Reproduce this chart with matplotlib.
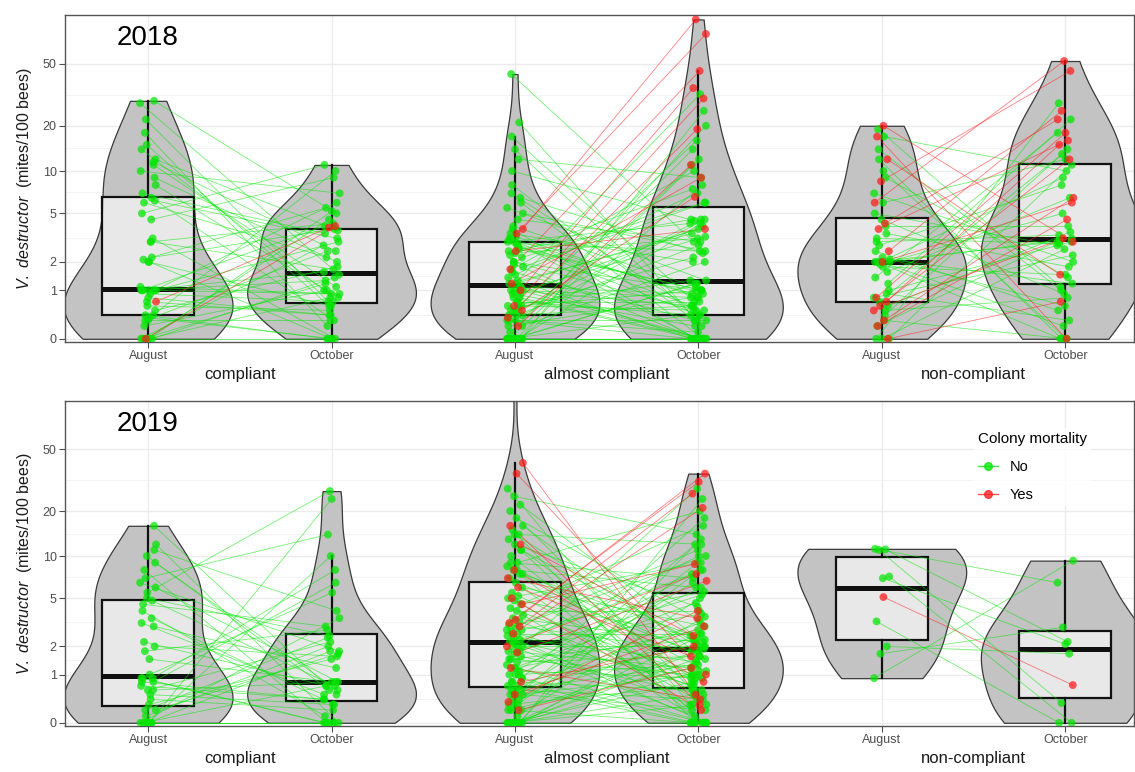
import matplotlib
matplotlib.use("Agg")
import matplotlib.pyplot as plt
from matplotlib.collections import LineCollection
from matplotlib.lines import Line2D
import matplotlib.transforms as mtransforms
import numpy as np

plt.rcParams['font.family'] = ['Liberation Sans', 'DejaVu Sans']
plt.rcParams['mathtext.fontset'] = 'custom'
plt.rcParams['mathtext.it'] = 'Liberation Sans:italic'
plt.rcParams['mathtext.rm'] = 'Liberation Sans'

groups = ["compliant", "almost compliant", "non-compliant"]
months = ["August", "October"]
y_ticks = [0, 1, 2, 5, 10, 20, 50]
years = ["2018", "2019"]

# mites/100 bees per colony; *_no = colony survived, *_yes = colony died
# 2018 compliant
c18_aug_no = [29, 0, 1.0, 6.5, 0.3, 12, 2.0, 0, 0.4, 15, 1.1, 3.0, 0.2, 9, 0.8, 5, 0, 22, 1.0, 0.35,
              2.1, 11, 0.6, 0, 4.5, 18, 0.5, 1.0, 7, 3.2, 0, 28, 0.9, 6, 1.0, 0.3, 14, 2.2, 0.4, 8,
              0, 1.0, 11.5, 0.7, 10, 3.0, 0, 6.2, 2.0, 1.0]
c18_oct_no = [5.0, 0.8, 1.6, 0.3, 2.5, 3.7, 0, 1.2, 10, 0.6, 0.9, 4.2, 1.0, 2.0, 0.4, 11, 1.4, 0.7, 3.0, 0,
              5.5, 1.1, 0.5, 2.8, 9, 0.2, 1.8, 0.9, 3.5, 0, 4.5, 1.5, 0.7, 2.2, 6, 0.3, 1.0, 3.8, 0, 0.8,
              5.2, 1.3, 2.5, 0.4, 7, 1.7, 0, 3.2, 0.6, 4.0]
c18_aug_yes = [0, 0.7]
c18_oct_yes = [4.0, 3.9]

# 2018 almost compliant
a18_aug_no = [0, 1.4, 0.5, 8, 0.2, 3.3, 0, 1.0, 2.0, 0.3,
              0.7, 43, 0, 1.5, 0.4, 2.6, 0.9, 5.0, 0, 0.1,
              1.1, 3.0, 0.6, 0, 17, 2.2, 0.3, 1.2, 0.8, 4.0,
              0, 2.8, 0.5, 6.0, 1.0, 0.2, 12, 1.6, 0, 0.4,
              3.1, 0.9, 2.0, 0, 1.3, 7.0, 0.6, 2.4, 0.3, 21,
              0, 1.8, 0.7, 3.5, 1.1, 0.5, 0, 2.7, 10, 0.4,
              1.2, 3.2, 0, 0.8, 5.5, 2.9, 1.0, 0, 14, 2.5,
              0.6, 3.8, 1.0, 0, 2.3, 6.5, 1.9, 3.0, 4.5, 1.7]
a18_oct_no = [1.2, 0, 4.5, 0.3, 2.0, 0.8, 11, 0, 0.5, 0.3,
              0.4, 3.0, 0, 7, 0.6, 1.0, 0.2, 2.5, 0, 14,
              0.9, 0, 1.3, 4.2, 0.7, 6, 0.1, 3.5, 0, 1.1,
              20, 0.4, 2.2, 0, 0.8, 0.8, 9, 0.3, 0, 2.8,
              0.6, 4.0, 1.0, 0, 32, 0.5, 0.5, 3.2, 0, 0.2,
              1.2, 6, 0.7, 2.0, 0, 16, 0.4, 1.0, 4.4, 4.5,
              3.8, 0.9, 8, 0, 1.3, 2.5, 0.6, 25, 0.3, 4.5,
              1.0, 0, 3.3, 12, 7.5, 2.4, 0, 4.2, 3.0, 10]
a18_aug_yes = [3.8, 3.5, 1.7, 1.0, 0.6, 0.35, 0.2, 1.2, 0.5, 2.5]
a18_oct_yes = [95, 77, 45, 35, 30, 19, 11, 9, 6.6, 3.8]

# 2018 non-compliant
n18_aug_no = [2.0, 0.5, 12, 0, 1.8, 3.0, 0.9, 2.0, 7, 0.3,
              19, 1.2, 0, 2.5, 4.0, 0.7, 2.1, 10, 0.2, 1.6,
              2.0, 5.0, 0.4, 14, 1.0, 2.2, 0, 3.5, 1.9, 0.8,
              17, 2.0, 0.6, 4.5, 1.4, 9, 2.8, 2.0, 6.0, 3.2]
n18_oct_no = [3.0, 0.8, 0, 11, 1.5, 3.4, 0.3, 9, 2.0, 0,
              1.1, 22, 2.6, 0.5, 4.0, 13, 1.2, 0, 3.1, 6.5,
              0.2, 2.8, 14, 1.0, 3.0, 0.6, 28, 1.8, 5.0, 2.3,
              10, 0, 3.6, 0.9, 18, 1.4, 8, 3.2, 12, 2.9]
n18_aug_yes = [20, 17, 12, 8.5, 6, 4.2, 3.8, 2.5, 2.0, 0.8, 0.7, 0.6, 0.5, 0.3, 0.2, 0]
n18_oct_yes = [3.0, 0.0, 1.5, 45, 52, 22, 16, 25, 6, 18, 15, 12, 3.2, 6.5, 4.5, 0.7]

# 2019 compliant
c19_aug_no = [16, 0, 0.9, 3.5, 0.2, 6.0, 0, 0.9, 0.6, 10, 0,
              0.4, 8.0, 2.0, 0, 0.8, 4.8, 0.1, 12, 1.0, 0, 3.0,
              5.5, 0.7, 0, 1.8, 9.0, 0.3, 4.0, 0.9, 0, 6.5, 0.5,
              2.2, 11, 0.6, 3.2, 0, 7.0, 0.2, 1.5, 4.5, 0.8, 5.0]
c19_oct_no = [0.5, 1.8, 0, 0.3, 2.4, 0.8, 24, 0, 0.8, 0.6, 3.5,
              0.2, 0, 1.6, 10, 0.4, 0.7, 2.0, 0, 5.5, 0.7, 1.2,
              27, 0.4, 0, 2.8, 0.6, 1.5, 0.1, 8.0, 0, 1.8, 0.3,
              0.7, 4.0, 2.2, 0.5, 0, 14, 1.7, 0.8, 3.0, 6.5, 2.5]
c19_aug_yes = []
c19_oct_yes = []

# 2019 almost compliant
a19_aug_no = [0, 0, 0, 0, 0, 0, 0, 0, 0, 0,
              0.1, 0.2, 0.2, 0.3, 0.3, 0.4, 0.4, 0.5, 0.5, 0.5, 0.6, 0.6, 0.7, 0.7, 0.8,
              0.9, 1.0, 1.0, 1.1, 1.2, 1.3, 1.4, 1.5, 1.6, 1.7, 1.8, 1.9, 2.0, 2.0, 2.1, 2.2, 2.3, 2.4, 2.5, 2.6,
              2.7, 2.8, 3.0, 3.1, 3.3, 3.5, 3.7, 4.0, 4.2, 4.5, 4.8, 5.0, 5.2, 5.5, 6.0, 6.5,
              7.0, 7.5, 8.0, 8.5, 9.0, 10, 11, 12, 13, 14, 15, 16, 18, 20, 22, 25, 28,
              0.3, 0.6, 0.9, 1.2, 1.5, 1.8, 2.2, 2.8, 8, 9, 11, 14, 0.2, 1.0, 0.8, 7.5, 0]
a19_oct_no = [2.4, 0, 13, 0.5, 3.6, 1.1, 0.8, 24, 1.5, 0.3,
              5.0, 0, 1.9, 9, 0.7, 2.6, 12, 0.2, 1.0, 6.5,
              0.4, 2.1, 0, 3.2, 0.6, 18, 1.3, 7.5, 0.9, 4.6,
              0, 1.6, 2.3, 0.5, 28, 1.2, 3.8, 0.1, 2.0, 10,
              0.3, 8.0, 1.4, 0, 2.6, 0.7, 5.6, 11, 1.8, 0.6,
              2.2, 0, 4.0, 1.0, 16, 0.4, 2.5, 9, 0.8, 3.0,
              1.7, 0.2, 0, 6.0, 1.1, 20, 0.5, 2.0, 4.3, 0.9,
              12, 0, 1.5, 3.4, 0.6, 2.2, 14, 0.3, 8, 1.3,
              0, 2.8, 1.0, 5.3, 0.9, 10, 1.6, 7.0, 0, 2.0,
              1.2, 6.0, 0, 2.3, 1.8]
a19_aug_yes = [41, 35, 16, 12, 8, 7, 6, 5, 4.5, 3.4, 3.2, 3.0, 2.6, 2.0, 1.75, 1.2, 0.8, 0.5, 0.35, 0.2]
a19_oct_yes = [0.5, 1.0, 0.3, 2.5, 0.8, 3.5, 1.6, 0.2, 8.8, 35, 31, 26, 21, 7.5, 6.7, 0.4, 2.0, 3.0, 4.0, 1.2]
a19_aug_only = [150]  # colony counted in August only

# 2019 non-compliant
n19_aug_no = [11.2, 11.1, 11.0, 7.2, 7.0, 3.3, 2.0, 1.7, 0.9]
n19_oct_no = [6.5, 2.2, 0.33, 0, 2.1, 0, 1.7, 2.95, 9.3]
n19_aug_yes = [5.1]
n19_oct_yes = [0.72]

panels = {
    "2018": [(c18_aug_no, c18_oct_no, c18_aug_yes, c18_oct_yes, []),
             (a18_aug_no, a18_oct_no, a18_aug_yes, a18_oct_yes, []),
             (n18_aug_no, n18_oct_no, n18_aug_yes, n18_oct_yes, [])],
    "2019": [(c19_aug_no, c19_oct_no, c19_aug_yes, c19_oct_yes, []),
             (a19_aug_no, a19_oct_no, a19_aug_yes, a19_oct_yes, a19_aug_only),
             (n19_aug_no, n19_oct_no, n19_aug_yes, n19_oct_yes, [])],
}

GREEN = '#00E600'
RED = '#FF1A1A'


def tf(v):
    # log10(x + 1) axis transform
    return np.log10(np.asarray(v, dtype=float) + 1)


def nrd0_factor(t):
    sd = np.std(t, ddof=1)
    q75, q25 = np.percentile(t, [75, 25])
    lo = min(sd, (q75 - q25) / 1.34)
    if lo <= 0:
        lo = sd
    return 1.2 * 0.9 * lo * len(t) ** -0.2 / sd


def jitter(n, seed):
    k = np.arange(n) + seed
    return ((k * 0.6180339887) % 1 - 0.5) * 0.09


def draw_dist(ax, t, pos):
    parts = ax.violinplot([t], positions=[pos], widths=0.92, showextrema=False,
                          bw_method=nrd0_factor(t), points=300)
    for b in parts['bodies']:
        b.set_facecolor('#C3C3C3')
        b.set_edgecolor('#3A3A3A')
        b.set_linewidth(0.9)
        b.set_alpha(1)
        b.set_zorder(1)
    ax.boxplot([t], positions=[pos], widths=0.5, patch_artist=True, showfliers=False,
               showcaps=False, manage_ticks=False,
               boxprops=dict(facecolor=(1, 1, 1, 0.62), edgecolor='#111111', linewidth=1.6),
               medianprops=dict(color='#111111', linewidth=3.6),
               whiskerprops=dict(color='#111111', linewidth=1.6), zorder=2)


fig = plt.figure(figsize=(11.35, 7.72), dpi=100)
ax_top = fig.add_axes([0.0573, 0.557, 0.942, 0.4236])
ax_bot = fig.add_axes([0.0573, 0.0596, 0.942, 0.421])

for ax, year in [(ax_top, "2018"), (ax_bot, "2019")]:
    ax.set_axisbelow(True)
    for g, (aug_no, oct_no, aug_yes, oct_yes, aug_only) in enumerate(panels[year]):
        pa, po = 2 * g + 1, 2 * g + 2
        draw_dist(ax, tf(aug_no + aug_yes + aug_only), pa)
        draw_dist(ax, tf(oct_no + oct_yes), po)

        for k, (a_vals, o_vals, col) in enumerate([(aug_no, oct_no, GREEN), (aug_yes, oct_yes, RED)]):
            n = len(a_vals)
            if n == 0:
                continue
            xa = pa + jitter(n, 3 + 17 * k + g)
            xo = po + jitter(n, 11 + 29 * k + g)
            ya, yo = tf(a_vals), tf(o_vals)
            segs = [[(xa[i], ya[i]), (xo[i], yo[i])] for i in range(n)]
            ax.add_collection(LineCollection(segs, colors=col, linewidths=0.6,
                                             alpha=0.55, zorder=3 + k))
            ax.scatter(xa, ya, s=32, color=col, alpha=0.72, edgecolors='none', zorder=5 + k)
            ax.scatter(xo, yo, s=32, color=col, alpha=0.72, edgecolors='none', zorder=5 + k)

    ax.set_xlim(0.547, 6.376)
    ax.set_ylim(-0.02, 2.01)
    ax.set_xticks(range(1, 7))
    ax.set_xticklabels(months * 3)
    yt = tf(y_ticks)
    ax.set_yticks(yt)
    ax.set_yticklabels([str(v) for v in y_ticks])
    ax.set_yticks((yt[:-1] + yt[1:]) / 2, minor=True)
    ax.grid(True, which='major', color='#EBEBEB', linewidth=1.0)
    ax.grid(True, which='minor', axis='y', color='#F2F2F2', linewidth=0.6)
    ax.tick_params(axis='both', which='major', colors='#4D4D4D', labelsize=9,
                   length=4, width=0.8, pad=2)
    ax.tick_params(axis='y', which='minor', length=0)
    for s in ax.spines.values():
        s.set_color('#555555')
        s.set_linewidth(1.0)
    ax.set_ylabel(r"$\it{V.\ destructor}$  (mites/100 bees)", fontsize=11.5,
                  color='#1A1A1A', labelpad=6)

    trans = mtransforms.blended_transform_factory(ax.transData, ax.transAxes)
    for g, name in enumerate(groups):
        ax.text(2 * g + 1.5, -0.10, name, transform=trans, ha='center', va='center',
                fontsize=12, color='#1A1A1A')
    ax.text(0.077, 0.93, year, transform=ax.transAxes, ha='center', va='center',
            fontsize=20, color='black')

handles = [Line2D([0], [0], color=GREEN, marker='o', markersize=5.5, lw=1, alpha=0.75, label='No'),
           Line2D([0], [0], color=RED, marker='o', markersize=5.5, lw=1, alpha=0.75, label='Yes')]
leg = ax_bot.legend(handles=handles, title='Colony mortality', loc='upper left',
                    bbox_to_anchor=(0.843, 0.94), frameon=True, fontsize=10.5,
                    title_fontsize=11, handlelength=1.4, labelspacing=0.95,
                    alignment='left', borderpad=0.3)
leg.get_frame().set_facecolor('white')
leg.get_frame().set_edgecolor('none')
leg.set_zorder(10)

fig.savefig("out.png", dpi=100)
